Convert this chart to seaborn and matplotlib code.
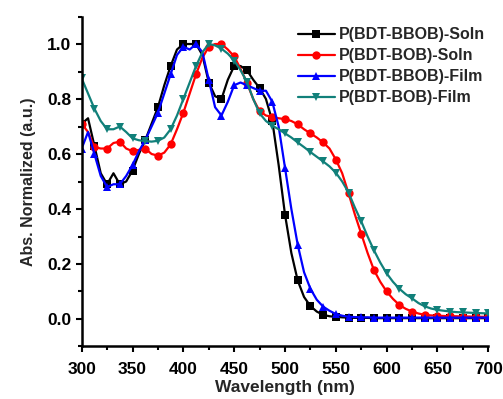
"""
归一化吸收光谱：P(BDT-BBOB) / P(BDT-BOB) 溶液与薄膜
"""
import matplotlib
matplotlib.use("Agg")
import matplotlib.pyplot as plt
from matplotlib.ticker import MultipleLocator
import numpy as np
import pandas as pd
import seaborn as sns

sns.set_theme(style="ticks")
plt.rcParams["font.family"] = ["Liberation Sans", "DejaVu Sans"]
plt.rcParams["font.weight"] = "bold"

# 波长网格 300-700 nm，每 6.25 nm 一个点（标记每两点一个）
wavelength = np.arange(300, 700.01, 6.25)

bbob_soln = [
    0.71, 0.73, 0.63, 0.53, 0.49, 0.53, 0.49, 0.50, 0.54, 0.60,
    0.65, 0.71, 0.77, 0.85, 0.92, 0.98, 1.00, 1.00, 1.00, 0.96,
    0.86, 0.81, 0.80, 0.87, 0.92, 0.92, 0.905, 0.87, 0.84, 0.80,
    0.72, 0.56, 0.38, 0.24, 0.14, 0.08, 0.047, 0.027, 0.015, 0.010,
    0.008, 0.006, 0.005, 0.004, 0.004, 0.004, 0.003, 0.003, 0.003, 0.003,
    0.003, 0.003, 0.003, 0.003, 0.003, 0.003, 0.003, 0.003, 0.003, 0.003,
    0.003, 0.003, 0.003, 0.003, 0.003,
]
bob_soln = [
    0.71, 0.68, 0.625, 0.62, 0.62, 0.64, 0.645, 0.62, 0.61, 0.615,
    0.62, 0.60, 0.594, 0.605, 0.635, 0.69, 0.75, 0.82, 0.89, 0.95,
    0.99, 1.00, 1.00, 0.98, 0.955, 0.91, 0.86, 0.80, 0.756, 0.74,
    0.735, 0.73, 0.727, 0.72, 0.708, 0.69, 0.675, 0.66, 0.642, 0.62,
    0.58, 0.53, 0.457, 0.38, 0.31, 0.24, 0.178, 0.135, 0.10, 0.073,
    0.051, 0.037, 0.027, 0.02, 0.015, 0.013, 0.012, 0.011, 0.010, 0.010,
    0.009, 0.009, 0.008, 0.008, 0.008,
]
bbob_film = [
    0.62, 0.68, 0.60, 0.52, 0.48, 0.49, 0.49, 0.52, 0.56, 0.61,
    0.65, 0.70, 0.75, 0.82, 0.89, 0.96, 0.99, 0.98, 1.00, 0.97,
    0.87, 0.77, 0.74, 0.79, 0.85, 0.86, 0.85, 0.84, 0.83, 0.83,
    0.79, 0.70, 0.55, 0.40, 0.27, 0.17, 0.11, 0.07, 0.045, 0.03,
    0.018, 0.012, 0.008, 0.007, 0.006, 0.006, 0.005, 0.005, 0.005, 0.005,
    0.005, 0.005, 0.005, 0.005, 0.005, 0.005, 0.005, 0.005, 0.005, 0.005,
    0.005, 0.005, 0.005, 0.005, 0.005,
]
bob_film = [
    0.875, 0.82, 0.765, 0.72, 0.69, 0.69, 0.70, 0.68, 0.657, 0.65,
    0.647, 0.645, 0.648, 0.66, 0.69, 0.74, 0.80, 0.86, 0.92, 0.97,
    1.00, 0.995, 0.983, 0.965, 0.94, 0.905, 0.863, 0.80, 0.748, 0.72,
    0.703, 0.69, 0.675, 0.66, 0.642, 0.625, 0.607, 0.59, 0.573, 0.555,
    0.532, 0.50, 0.46, 0.405, 0.355, 0.30, 0.25, 0.205, 0.166, 0.135,
    0.11, 0.09, 0.075, 0.058, 0.046, 0.038, 0.033, 0.03, 0.027, 0.025,
    0.024, 0.023, 0.022, 0.021, 0.02,
]

series = [
    ("P(BDT-BBOB)-Soln", bbob_soln, "black", "s"),
    ("P(BDT-BOB)-Soln", bob_soln, "red", "o"),
    ("P(BDT-BBOB)-Film", bbob_film, "blue", "^"),
    ("P(BDT-BOB)-Film", bob_film, "#11807a", "v"),
]

fig = plt.figure(figsize=(5.03, 3.99), dpi=100)
ax = fig.add_axes([0.1624, 0.1316, 0.8084, 0.827])

for name, vals, color, mk in series:
    df = pd.DataFrame({"wl": wavelength, "abs": vals})
    sns.lineplot(data=df, x="wl", y="abs", ax=ax, color=color, marker=mk,
                 markersize=6, markeredgewidth=0, linewidth=1.6,
                 markevery=2, label=name)

ax.set_xlim(300, 700)
ax.set_ylim(-0.1, 1.1)
ax.xaxis.set_major_locator(MultipleLocator(50))
ax.xaxis.set_minor_locator(MultipleLocator(25))
ax.set_yticks([0.0, 0.2, 0.4, 0.6, 0.8, 1.0])
ax.yaxis.set_minor_locator(MultipleLocator(0.1))
ax.tick_params(which="major", direction="out", length=4.5, width=1.5,
               labelsize=12.5, color="black", labelcolor="black", pad=3)
ax.tick_params(axis="x", which="major", pad=7)
ax.tick_params(which="minor", direction="out", length=3, width=1.5, color="black")
for lab in ax.get_xticklabels() + ax.get_yticklabels():
    lab.set_fontweight("bold")

ax.spines["top"].set_visible(False)
ax.spines["right"].set_visible(False)
for s in ["left", "bottom"]:
    ax.spines[s].set_linewidth(1.8)
    ax.spines[s].set_color("black")

ax.set_xlabel("Wavelength (nm)", fontsize=12.5, fontweight="bold", labelpad=2)
ax.set_ylabel("Abs. Normalized (a.u.)", fontsize=11.5, fontweight="bold", labelpad=8)

leg = ax.legend(loc="upper left", bbox_to_anchor=(0.592, 0.932),
                bbox_transform=fig.transFigure, frameon=False,
                prop={"weight": "bold", "size": 11.5}, handlelength=2.3,
                handletextpad=0.3, labelspacing=0.38, borderpad=0,
                borderaxespad=0)

fig.savefig("out.png", dpi=100)
